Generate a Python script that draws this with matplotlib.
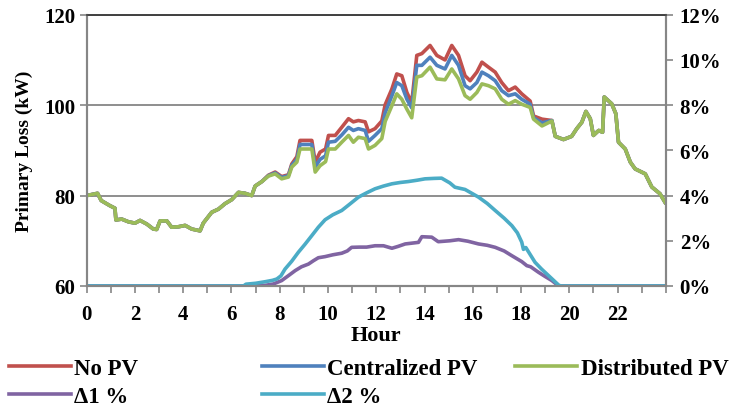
import matplotlib.pyplot as plt
from matplotlib.ticker import FuncFormatter

# hours for the loss curves (kW)
hours = [0, 0.45, 0.6, 0.95, 1.17, 1.21, 1.45, 1.73, 2.0, 2.21,
         2.49, 2.76, 2.9, 3.04, 3.32, 3.52, 3.8, 4.08, 4.35, 4.7,
         4.83, 5.18, 5.46, 5.73, 6.01, 6.29, 6.56, 6.84, 6.98, 7.26,
         7.53, 7.81, 8.08, 8.36, 8.5, 8.71, 8.84, 9.33, 9.47, 9.67,
         9.9, 10.02, 10.3, 10.57, 10.85, 11.05, 11.26, 11.54, 11.68, 11.95,
         12.23, 12.37, 12.65, 12.85, 13.06, 13.27, 13.47, 13.68, 13.89, 14.23,
         14.51, 14.85, 15.13, 15.41, 15.68, 15.89, 16.17, 16.38, 16.65, 16.93,
         17.2, 17.48, 17.76, 18.03, 18.38, 18.52, 18.87, 19.28, 19.42, 19.76,
         20.1, 20.31, 20.52, 20.69, 20.87, 21.0, 21.22, 21.38, 21.45, 21.76,
         21.93, 22.04, 22.32, 22.53, 22.73, 23.15, 23.42, 23.76, 23.97]

distributed_pv = [80.0, 80.5, 78.9, 77.8, 77.2, 74.6, 74.8, 74.2, 73.9, 74.5,
                  73.7, 72.6, 72.5, 74.4, 74.4, 73.0, 73.1, 73.4, 72.6, 72.2,
                  73.9, 76.3, 77.0, 78.2, 79.1, 80.7, 80.5, 80.0, 82.1, 83.1,
                  84.3, 84.8, 83.7, 84.1, 86.3, 87.4, 90.3, 90.3, 85.2, 86.6,
                  87.5, 90.3, 90.3, 91.8, 93.3, 91.8, 92.9, 92.6, 90.3, 91.1,
                  92.6, 96.4, 99.9, 102.5, 101.3, 99.1, 97.2, 106.2, 106.5, 108.4,
                  105.8, 105.6, 108.0, 105.8, 102.1, 101.3, 102.8, 104.7, 104.3, 103.6,
                  101.3, 100.2, 101.0, 100.2, 99.5, 96.9, 95.4, 96.5, 93.1, 92.4,
                  93.1, 94.8, 96.2, 98.6, 97.0, 93.3, 94.4, 94.0, 101.8, 100.3,
                  98.1, 91.8, 90.3, 87.4, 85.9, 84.8, 81.9, 80.4, 78.5]

centralized_pv = [80.0, 80.5, 78.9, 77.8, 77.2, 74.6, 74.8, 74.2, 73.9, 74.5,
                  73.7, 72.6, 72.5, 74.4, 74.4, 73.0, 73.1, 73.4, 72.6, 72.2,
                  73.9, 76.3, 77.0, 78.2, 79.1, 80.7, 80.5, 80.0, 82.1, 83.1,
                  84.4, 85.0, 84.0, 84.4, 86.7, 88.0, 91.3, 91.3, 86.3, 88.0,
                  88.8, 91.8, 92.0, 93.4, 95.1, 94.4, 94.8, 94.4, 92.0, 93.3,
                  94.8, 98.3, 102.1, 105.0, 104.3, 101.3, 99.4, 108.8, 108.8, 110.6,
                  108.8, 108.0, 111.0, 108.8, 104.3, 103.6, 105.0, 107.3, 106.5, 105.4,
                  103.2, 102.1, 102.5, 101.3, 100.2, 97.2, 96.1, 96.6, 93.1, 92.4,
                  93.1, 94.8, 96.2, 98.6, 97.0, 93.3, 94.4, 94.0, 101.8, 100.3,
                  98.1, 91.8, 90.3, 87.4, 85.9, 84.8, 81.9, 80.4, 78.5]

no_pv = [80.0, 80.5, 78.9, 77.8, 77.2, 74.6, 74.8, 74.2, 73.9, 74.5,
         73.7, 72.6, 72.5, 74.4, 74.4, 73.0, 73.1, 73.4, 72.6, 72.2,
         73.9, 76.3, 77.0, 78.2, 79.1, 80.7, 80.5, 80.0, 82.1, 83.1,
         84.5, 85.2, 84.2, 84.6, 87.0, 88.6, 92.2, 92.2, 87.4, 89.6,
         90.3, 93.3, 93.3, 95.1, 97.0, 96.3, 96.6, 96.3, 94.1, 94.8,
         96.5, 100.1, 103.6, 106.9, 106.5, 102.8, 100.5, 111.0, 111.4, 113.2,
         111.0, 110.0, 113.2, 111.0, 106.5, 105.4, 107.3, 109.5, 108.4, 107.3,
         105.0, 103.2, 104.0, 102.5, 100.9, 97.6, 96.9, 96.6, 93.1, 92.4,
         93.1, 94.8, 96.2, 98.6, 97.0, 93.3, 94.4, 94.0, 101.8, 100.3,
         98.1, 91.8, 90.3, 87.4, 85.9, 84.8, 81.9, 80.4, 78.5]

# percentage curves (right axis)
d1_hours = [0, 6.8, 7.4, 7.74, 8.08, 8.35, 8.64, 8.9, 9.19, 9.4,
            9.6, 9.88, 10.2, 10.57, 10.8, 10.98, 11.3, 11.6, 11.95, 12.3,
            12.65, 12.9, 13.2, 13.75, 13.89, 14.3, 14.57, 15.05, 15.41, 15.8,
            16.24, 16.6, 16.93, 17.3, 17.62, 18.03, 18.24, 18.4, 18.72, 19.0,
            19.28, 19.56, 24]
delta1 = [0, 0, 0.03, 0.09, 0.24, 0.45, 0.68, 0.85, 0.97, 1.12,
          1.25, 1.30, 1.38, 1.45, 1.55, 1.71, 1.72, 1.72, 1.78, 1.78,
          1.67, 1.75, 1.86, 1.93, 2.18, 2.16, 1.96, 2.0, 2.05, 1.98,
          1.86, 1.80, 1.71, 1.55, 1.34, 1.08, 0.9, 0.85, 0.61, 0.42,
          0.24, 0.0, 0]

d2_hours = [0, 6.5, 6.6, 7.0, 7.4, 7.7, 7.88, 8.05, 8.22, 8.5,
            8.77, 9.05, 9.33, 9.6, 9.88, 10.2, 10.57, 10.9, 11.26, 11.6,
            11.95, 12.3, 12.65, 13.0, 13.33, 13.7, 14.02, 14.4, 14.71, 15.05,
            15.26, 15.68, 16.24, 16.6, 16.93, 17.3, 17.62, 17.85, 18.03, 18.1,
            18.2, 18.58, 18.85, 19.14, 19.35, 19.56, 19.65, 24]
delta2 = [0, 0, 0.08, 0.12, 0.19, 0.25, 0.31, 0.45, 0.75, 1.1,
          1.49, 1.85, 2.23, 2.6, 2.93, 3.15, 3.34, 3.62, 3.93, 4.12,
          4.30, 4.42, 4.52, 4.58, 4.62, 4.68, 4.74, 4.76, 4.77, 4.56,
          4.37, 4.27, 3.93, 3.65, 3.34, 3.0, 2.67, 2.35, 1.94, 1.62,
          1.70, 1.05, 0.75, 0.46, 0.25, 0.04, 0, 0]

plt.rcParams['font.family'] = ['Liberation Serif', 'DejaVu Serif']
plt.rcParams['font.weight'] = 'bold'

grey = '#868686'
fig = plt.figure(figsize=(7.33, 4.10), dpi=100)
ax = fig.add_axes([0.1183, 0.30, 0.79, 0.6617])

l_red, = ax.plot(hours, no_pv, color='#C0504D', lw=2.6, label='No PV')
l_blue, = ax.plot(hours, centralized_pv, color='#4F81BD', lw=2.6, label='Centralized PV')
l_green, = ax.plot(hours, distributed_pv, color='#9BBB59', lw=2.6, label='Distributed PV')

ax.set_xlim(0, 24)
ax.set_ylim(60, 120)
ax.set_yticks([60, 80, 100, 120])
ax.set_xticks(range(0, 25))
ax.set_xticklabels([str(h) if h % 2 == 0 and h < 24 else '' for h in range(0, 25)])
ax.yaxis.grid(True, color=grey, lw=1.3)
ax.set_axisbelow(True)
ax.tick_params(direction='out', length=5, width=1.2, color=grey, labelsize=15, pad=3)
ax.tick_params(axis='x', pad=8)
ax.set_xlabel('Hour', fontsize=16, fontweight='bold', labelpad=1)
ax.set_ylabel('Primary Loss (kW)', fontsize=14, fontweight='bold', labelpad=8)

ax2 = ax.twinx()
l_d1, = ax2.plot(d1_hours, delta1, color='#8064A2', lw=2.6, label='\u03941 %')
l_d2, = ax2.plot(d2_hours, delta2, color='#4BACC6', lw=2.6, label='\u03942 %')
ax2.set_ylim(0, 12)
ax2.set_yticks(range(0, 13, 2))
ax2.yaxis.set_major_formatter(FuncFormatter(lambda v, p: '%d%%' % v))
ax2.tick_params(direction='out', length=5, width=1.2, color=grey, labelsize=15, pad=5)

for a in (ax, ax2):
    for s in ('left', 'right', 'bottom'):
        a.spines[s].set_color(grey)
        a.spines[s].set_linewidth(1.5)
    a.spines['top'].set_color('#404040')
    a.spines['top'].set_linewidth(1.2)

leg_kw = dict(loc='upper left', frameon=False, handlelength=2.7,
              handletextpad=0.15, borderpad=0, borderaxespad=0, labelspacing=0.3)
for handles, x0 in (([l_red, l_d1], 0.012), ([l_blue, l_d2], 0.357), ([l_green], 0.703)):
    fig.legend(handles=handles, bbox_to_anchor=(x0, 0.124),
               prop={'weight': 'bold', 'size': 16.5}, **leg_kw)

fig.savefig('out.png', dpi=100)
